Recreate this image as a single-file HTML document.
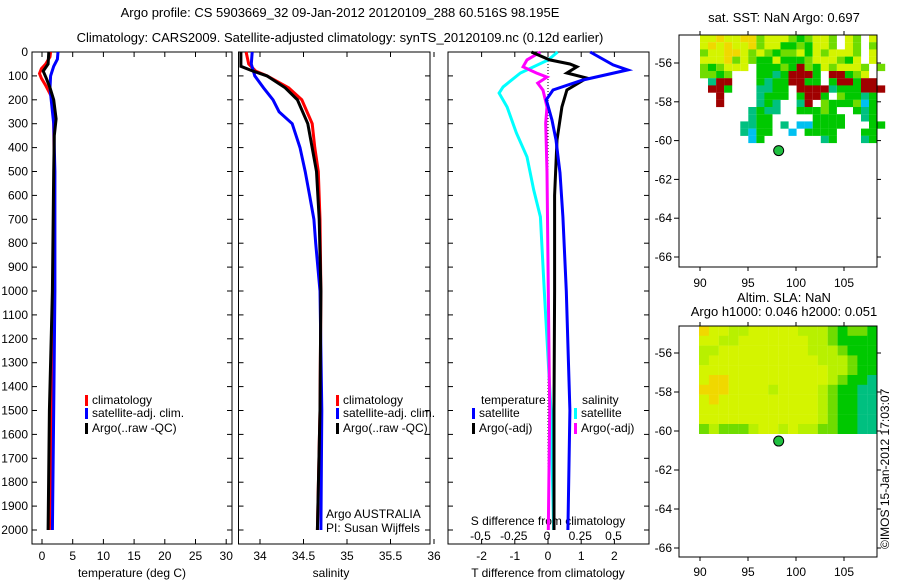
<!DOCTYPE html>
<html><head><meta charset="utf-8"><style>
body{margin:0;background:#fff}
svg{display:block;font-family:"Liberation Sans",sans-serif}
text{font-size:12px;fill:#000}
.t{font-size:13px}
</style></head><body>
<svg id="s" width="900" height="580" viewBox="0 0 900 580" xmlns="http://www.w3.org/2000/svg">
<text class="t" x="340" y="17" text-anchor="middle">Argo profile: CS 5903669_32 09-Jan-2012 20120109_288 60.516S 98.195E</text>
<text class="t" x="340" y="42" text-anchor="middle">Climatology: CARS2009. Satellite-adjusted climatology: synTS_20120109.nc (0.12d earlier)</text>
<text class="t" x="784" y="22" text-anchor="middle">sat. SST: NaN Argo: 0.697</text>
<text class="t" x="784" y="302" text-anchor="middle">Altim. SLA: NaN</text>
<text class="t" x="784" y="316" text-anchor="middle">Argo h1000: 0.046 h2000: 0.051</text>
<text x="0" y="0" transform="translate(889,549) rotate(-90)">©IMOS 15-Jan-2012 17:03:07</text>
<g id="g"></g>
</svg>
<script>
// ---- data ----
const depthTicks=[0,100,200,300,400,500,600,700,800,900,1000,1100,1200,1300,1400,1500,1600,1700,1800,1900,2000];
const tempTicks=[0,5,10,15,20,25,30];
const salTicks=[34,34.5,35,35.5,36];
const dtTicks=[-2,-1,0,1,2];
const dsTicks=[-0.5,-0.25,0,0.25,0.5];
const dsTickLabels=["-0.5","-0.25","0","0.25","0.5"];
const tClimD=[0,20,50,70,90,110,140,170,200,300,500,1000,1500,2000];
const tClimV=[1.4,1.3,0.6,-0.1,-0.4,-0.1,0.6,1.2,1.8,1.9,2.0,1.9,1.6,1.2];
const tSatD=[0,30,60,100,150,200,300,500,1000,1500,2000];
const tSatV=[2.6,2.5,1.9,1.4,1.3,1.5,1.9,2.1,2.1,1.9,1.7];
const tArgoD=[0,50,80,110,150,200,280,350,500,1000,1500,2000];
const tArgoV=[1.1,1.0,0.2,0.7,1.3,1.9,2.3,2.0,1.9,1.7,1.2,1.0];
const sClimD=[0,50,80,100,150,200,300,400,500,700,1000,1500,2000];
const sClimV=[33.84,33.87,33.95,34.08,34.33,34.48,34.6,34.63,34.67,34.69,34.70,34.69,34.66];
const sSatD=[0,50,100,150,200,250,300,400,500,600,700,800,1000,1500,2000];
const sSatV=[33.91,33.9,33.94,34.04,34.15,34.22,34.37,34.46,34.52,34.57,34.62,34.64,34.69,34.71,34.70];
const sArgoD=[0,60,80,100,150,200,300,500,700,1000,1500,2000];
const sArgoV=[33.78,33.78,33.92,34.08,34.29,34.43,34.55,34.65,34.68,34.70,34.69,34.66];
const dtSatD=[0,54,75,117,159,200,285,368,506,690,1000,1500,2000];
const dtSatV=[1.27,1.96,2.4,1.05,0.15,-0.05,0.12,0.24,0.36,0.45,0.55,0.66,0.6];
const dtArgoD=[0,33,50,62,88,109,159,230,368,600,1000,1500,2000];
const dtArgoV=[-0.5,0.05,0.66,0.87,0.57,1.17,0.57,0.42,0.27,0.2,0.2,0.18,0.18];
const dsSatD=[0,33,88,146,172,230,339,439,577,690,1000,1500,2000];
const dsSatV=[0.08,0.01,-0.2,-0.33,-0.36,-0.3,-0.23,-0.15,-0.1,-0.05,-0.02,0.03,0.05];
const dsArgoD=[0,33,62,88,105,130,160,230,297,500,1000,1500,2000];
const dsArgoV=[-0.05,-0.15,-0.18,-0.08,0,-0.07,-0.03,0,-0.01,0,0.01,0.02,0.01];
const latTicks=[-56,-58,-60,-62,-64,-66];
const lonTicks=[90,95,100,105];
const sstGrid=["66766774666434664.64.6","67676674663343664.64.4","46677646434463646664.6",
"66674643363334666436.6","434666.33343943646664.4","4434...33239993.99346.",".299...32339933.399399",
".993...2233.99992333999","..9....2333.3993.43323",
"..9....232..29.4333413","......2322..33343..323","......233.....3333..23",
".....2233.2.113333...33",".....2133..1.3333...33","......13.......23...23"];
const slaGrid=["766556666655543443","665566666665543333","556666666665554333","566666666666555433",
"666666666666655433","677666666666654332","777666656666543322","676666666666543322",
"666666666666543322","666666666666543322","454445665655443322"];
const argoLon=98.195, argoLat=-60.516;
// ---- axes ----
const yD=d=>52+d*0.239;
const xT=t=>42+t*6.14;
const xS=s=>260+(s-34)*87;
const xDT=v=>548+v*33.2;
const xDS=v=>547+v*133;
const mx=l=>700+(l-90)*9.6;
const my1=l=>63+(-56-l)*19.4;
const my2=l=>353+(-56-l)*19.5;
const cmap=["#0040ff","#00c0f0","#00c080","#00c800","#70dc00","#b8f000","#d4f400","#f0d800","#f0a000","#a00000"];
const G=document.getElementById('g');
const NS="http://www.w3.org/2000/svg";
function mk(tag,at,name){const e=document.createElementNS(NS,tag);for(const k in at)e.setAttribute(k,at[k]);


G.appendChild(e);return e;}
function txt(x,y,s,name,anchor){const e=mk('text',{x:x,y:y,'text-anchor':anchor||'middle'},name);e.textContent=s;return e;}
function line(x1,y1,x2,y2,name,w){return mk('line',{x1,y1,x2,y2,stroke:'#000','stroke-width':w||1},name);}
function prof(D,V,fx,col,name){mk('polyline',{points:D.map((d,i)=>fx(V[i]).toFixed(1)+','+yD(d).toFixed(1)).join(' '),fill:'none',stroke:col,'stroke-width':3,'stroke-linejoin':'miter'},name);}
// maps
sstGrid.forEach((r,j)=>{for(let i=0;i<r.length;i++){const c=r[i];if(c==='.')continue;
mk('rect',{x:(700+i*8.05).toFixed(1),y:(35+j*7.2).toFixed(1),width:8.1,height:7.3,fill:cmap[+c]},'sst-cell');}});
slaGrid.forEach((r,j)=>{for(let i=0;i<r.length;i++){const c=r[i];
mk('rect',{x:(699+i*9.9).toFixed(1),y:(326+j*9.8).toFixed(1),width:10,height:10,fill:cmap[+c]},'sla-cell');}});
[[35,267,my1,287,'sst'],[326,557,my2,576,'sla']].forEach(([t,b,fy,ly,n])=>{
mk('rect',{x:679,y:t,width:198,height:b-t,fill:'none',stroke:'#000'},n+'-map-frame');
latTicks.forEach(l=>{const y=fy(l);if(y<t||y>b)return;line(674,y,679,y,n+'-lat-tick');line(877,y,881,y,n+'-lat-tick');txt(672,y+4,String(l),n+'-lat-label','end');});
lonTicks.forEach(l=>{const x=mx(l);line(x,b,x,b+4,n+'-lon-tick');line(x,t,x,t-4,n+'-lon-tick');txt(x,ly,String(l),n+'-lon-label');});
mk('circle',{cx:mx(argoLon),cy:fy(argoLat),r:5,fill:'#20c040',stroke:'#000'},n+'-argo-marker');
});
// panels
const panels=[[32,232,'temp'],[238.5,430,'sal'],[448,649,'diff']];
panels.forEach(([l,r,n])=>{mk('rect',{x:l,y:52,width:r-l,height:492,fill:'none',stroke:'#000'},n+'-panel-frame');
depthTicks.forEach(d=>{const y=yD(d);line(l,y,l+5,y,n+'-depth-tick');line(r-5,y,r,y,n+'-depth-tick');});});
depthTicks.forEach(d=>txt(28,yD(d)+4,String(d),'depth-label','end'));
tempTicks.forEach(t=>{const x=xT(t);line(x,52,x,57,'temp-tick');line(x,544,x,539,'temp-tick');txt(x,560,String(t),'temp-tick-label');});
salTicks.forEach(s=>{const x=xS(s);line(x,52,x,57,'sal-tick');line(x,544,x,539,'sal-tick');txt(x,560,String(s),'sal-tick-label');});
dtTicks.forEach(v=>{const x=xDT(v);line(x,52,x,57,'dt-tick');line(x,544,x,539,'dt-tick');txt(x,560,String(v),'dt-tick-label');});
dsTicks.forEach((v,i)=>txt(xDS(v),540,dsTickLabels[i],'ds-tick-label'));
txt(132,577,'temperature (deg C)','temp-axis-title');
txt(331,577,'salinity','sal-axis-title');
txt(548,577,'T difference from climatology','dt-axis-title');
txt(548,525,'S difference from climatology','ds-axis-title');
mk('line',{x1:548,y1:52,x2:548,y2:540,stroke:'#000','stroke-dasharray':'1,2'},'zero-line');
prof(tClimD,tClimV,xT,'#f00','temp-climatology-line');
prof(tSatD,tSatV,xT,'#00f','temp-satellite-line');
prof(tArgoD,tArgoV,xT,'#000','temp-argo-line');
prof(sClimD,sClimV,xS,'#f00','sal-climatology-line');
prof(sSatD,sSatV,xS,'#00f','sal-satellite-line');
prof(sArgoD,sArgoV,xS,'#000','sal-argo-line');
prof(dsSatD,dsSatV,xDS,'#0ff','ds-satellite-line');
prof(dsArgoD,dsArgoV,xDS,'#f0f','ds-argo-line');
prof(dtArgoD,dtArgoV,xDT,'#000','dt-argo-line');
prof(dtSatD,dtSatV,xDT,'#00f','dt-satellite-line');
function leg(x,y,col,label,n){if(col)mk('rect',{x:x,y:y-9,width:3,height:11,fill:col},n+'-swatch');txt(x+7,y,label,n,'start');}
[[85,'temp'],[336,'sal']].forEach(([x,n])=>{leg(x,404,'#f00','climatology',n+'-legend-clim');leg(x,417,'#00f','satellite-adj. clim.',n+'-legend-sat');leg(x,432,'#000','Argo(..raw -QC)',n+'-legend-argo');});
txt(481,404,'temperature','legend-temp-heading','start');
leg(472,417,'#00f','satellite','legend-dt-sat');leg(472,432,'#000','Argo(-adj)','legend-dt-argo');
txt(582,404,'salinity','legend-sal-heading','start');
leg(574,417,'#0ff','satellite','legend-ds-sat');leg(574,432,'#f0f','Argo(-adj)','legend-ds-argo');
txt(326,518,'Argo AUSTRALIA','argo-agency','start');
txt(326,532,'PI: Susan Wijffels','argo-pi','start');
</script>
</body></html>
